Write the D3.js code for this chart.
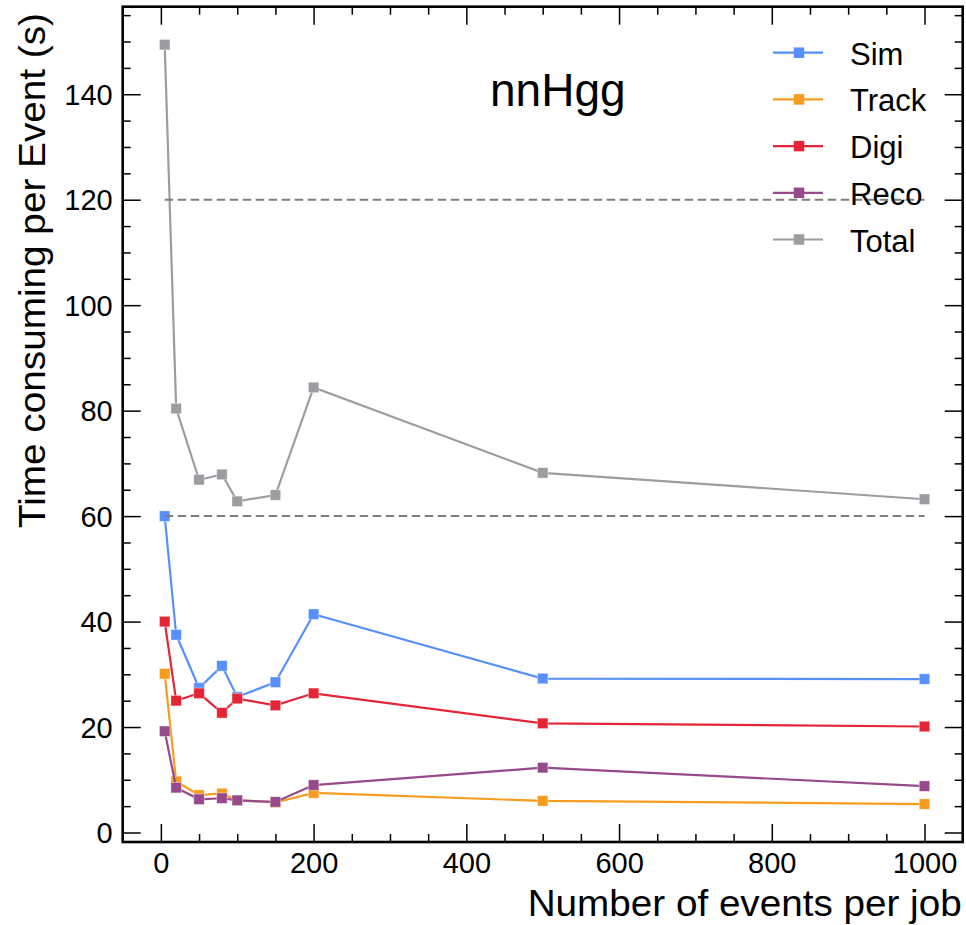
<!DOCTYPE html>
<html>
<head>
<meta charset="utf-8">
<script src="https://cdn.jsdelivr.net/npm/d3@7/dist/d3.min.js"></script>
<style>
  html, body { margin: 0; padding: 0; background: #fff; }
  svg { display: block; }
  text { font-family: "Liberation Sans", Arial, Helvetica, sans-serif; fill: #000; }
</style>
</head>
<body>
<svg id="chart" width="966" height="925"></svg>
<script>
// ---- data ----
const eventsPerJob = [5, 20, 50, 80, 100, 150, 200, 500, 1000];
const simValues   = [60.0, 37.5, 27.4, 31.6, 25.7, 28.5, 41.4, 29.2, 29.1];
const trackValues = [30.1, 9.7, 7.1, 7.4, 6.1, 5.7, 7.5, 6.0, 5.4];
const digiValues  = [40.0, 25.0, 26.4, 22.7, 25.4, 24.1, 26.4, 20.7, 20.1];
const recoValues  = [19.2, 8.5, 6.3, 6.5, 6.1, 5.8, 9.0, 12.3, 8.8];
const totalValues = [149.4, 80.4, 66.9, 67.9, 62.8, 64.0, 84.4, 68.2, 63.2];
const seriesNames = ["Sim", "Track", "Digi", "Reco", "Total"];
const seriesColors = ["#5790fc", "#f89c20", "#e42536", "#964a8b", "#9c9ca1"];
const referenceLines = [60, 120];
const xTickValues = [0, 200, 400, 600, 800, 1000];
const yTickValues = [0, 20, 40, 60, 80, 100, 120, 140];
const processLabel = "nnHgg";
const xTitle = "Number of events per job";
const yTitle = "Time consuming per Event (s)";

const seriesValues = [simValues, trackValues, digiValues, recoValues, totalValues];
const series = seriesNames.map((name, i) => ({
  name, color: seriesColors[i],
  points: eventsPerJob.map((x, j) => ({ x, y: seriesValues[i][j] }))
}));

// ---- layout ----
const svg = d3.select("#chart");
const L = 122.7, R = 962.7, T = 6.7, B = 842;
const x = d3.scaleLinear().domain([-50, 1050]).range([L, R]);
const allY = seriesValues.flat();
const yMin = d3.min(allY), yMax = d3.max(allY), pad = (yMax - yMin) * 0.05;
const y = d3.scaleLinear().domain([yMin - pad, yMax + pad]).range([B, T]);

const plot = svg.append("g");
const clipId = "clip";
svg.append("defs").append("clipPath").attr("id", clipId)
  .append("rect").attr("x", L).attr("y", T).attr("width", R - L).attr("height", B - T);

// ---- series ----
const MS = 10.5;
const line = d3.line().x(d => x(d.x)).y(d => y(d.y));
const data = plot.append("g").attr("clip-path", `url(#${clipId})`);
series.forEach(s => {
  data.append("path").datum(s.points)
    .attr("d", line).attr("fill", "none")
    .attr("stroke", s.color).attr("stroke-width", 2.2);
  data.selectAll(null).data(s.points).enter().append("rect")
    .attr("x", d => x(d.x) - MS / 2).attr("y", d => y(d.y) - MS / 2)
    .attr("width", MS).attr("height", MS)
    .attr("fill", s.color)
    .attr("stroke", "#ffffff").attr("stroke-opacity", 0.5).attr("stroke-width", 0.8);
});

// ---- reference dashed lines ----
referenceLines.forEach(v => {
  data.append("line")
    .attr("x1", x(eventsPerJob[0])).attr("x2", x(eventsPerJob[eventsPerJob.length - 1]))
    .attr("y1", y(v)).attr("y2", y(v))
    .attr("stroke", "#7f7f7f").attr("stroke-width", 2)
    .attr("stroke-dasharray", "8.5,4.5");
});

// ---- axes (ticks inward on all sides) ----
const MAJ = 18, MIN = 8;
const xMinor = d3.range(0, 1001, 50).filter(v => !xTickValues.includes(v));
const yMinor = d3.range(0, 157, 5).filter(v => !yTickValues.includes(v));

function addAxis(axisFn, scale, values, size, transform) {
  const g = svg.append("g").attr("transform", transform)
    .call(axisFn(scale).tickValues(values).tickSize(size).tickFormat(""));
  g.select(".domain").remove();
  g.selectAll(".tick line").attr("stroke", "#000").attr("stroke-width", 1.5);
  return g;
}
addAxis(d3.axisBottom, x, xTickValues, -MAJ, `translate(0,${B})`);
addAxis(d3.axisBottom, x, xMinor, -MIN, `translate(0,${B})`);
addAxis(d3.axisTop, x, xTickValues, -MAJ, `translate(0,${T})`);
addAxis(d3.axisTop, x, xMinor, -MIN, `translate(0,${T})`);
addAxis(d3.axisLeft, y, yTickValues, -MAJ, `translate(${L},0)`);
addAxis(d3.axisLeft, y, yMinor, -MIN, `translate(${L},0)`);
addAxis(d3.axisRight, y, yTickValues, -MAJ, `translate(${R},0)`);
addAxis(d3.axisRight, y, yMinor, -MIN, `translate(${R},0)`);

// tick labels
const xl = svg.append("g").attr("transform", `translate(0,${B})`)
  .call(d3.axisBottom(x).tickValues(xTickValues).tickSize(0).tickPadding(0).tickFormat(d3.format("d")));
xl.select(".domain").remove();
xl.selectAll(".tick text").attr("font-size", 29).attr("dy", null).attr("y", 31)
  .style("font-family", '"Liberation Sans", Arial, sans-serif');

const yl = svg.append("g").attr("transform", `translate(${L},0)`)
  .call(d3.axisLeft(y).tickValues(yTickValues).tickSize(0).tickPadding(0).tickFormat(d3.format("d")));
yl.select(".domain").remove();
yl.selectAll(".tick text").attr("font-size", 29).attr("x", -10).attr("dy", "0.35em")
  .style("font-family", '"Liberation Sans", Arial, sans-serif');

// frame
svg.append("rect").attr("x", L).attr("y", T).attr("width", R - L).attr("height", B - T)
  .attr("fill", "none").attr("stroke", "#000").attr("stroke-width", 2.6);

// axis titles
svg.append("text").attr("x", R - 1).attr("y", 916).attr("text-anchor", "end")
  .attr("font-size", 37).attr("textLength", 434).attr("lengthAdjust", "spacingAndGlyphs")
  .text(xTitle);
svg.append("text").attr("transform", `translate(45,13) rotate(-90)`)
  .attr("text-anchor", "end").attr("font-size", 37)
  .attr("textLength", 515).attr("lengthAdjust", "spacingAndGlyphs")
  .text(yTitle);

// process label
svg.append("text").attr("x", 490).attr("y", 106).attr("font-size", 46).text(processLabel);

// legend
const lg = svg.append("g");
series.forEach((s, i) => {
  const cy = 52.7 + i * 46.7;
  lg.append("line").attr("x1", 773).attr("x2", 823).attr("y1", cy).attr("y2", cy)
    .attr("stroke", s.color).attr("stroke-width", 2.2);
  lg.append("rect").attr("x", 799 - MS / 2).attr("y", cy - MS / 2).attr("width", MS).attr("height", MS)
    .attr("fill", s.color);
  lg.append("text").attr("x", 850).attr("y", cy + 12).attr("font-size", 31).text(s.name);
});
</script>
</body>
</html>
